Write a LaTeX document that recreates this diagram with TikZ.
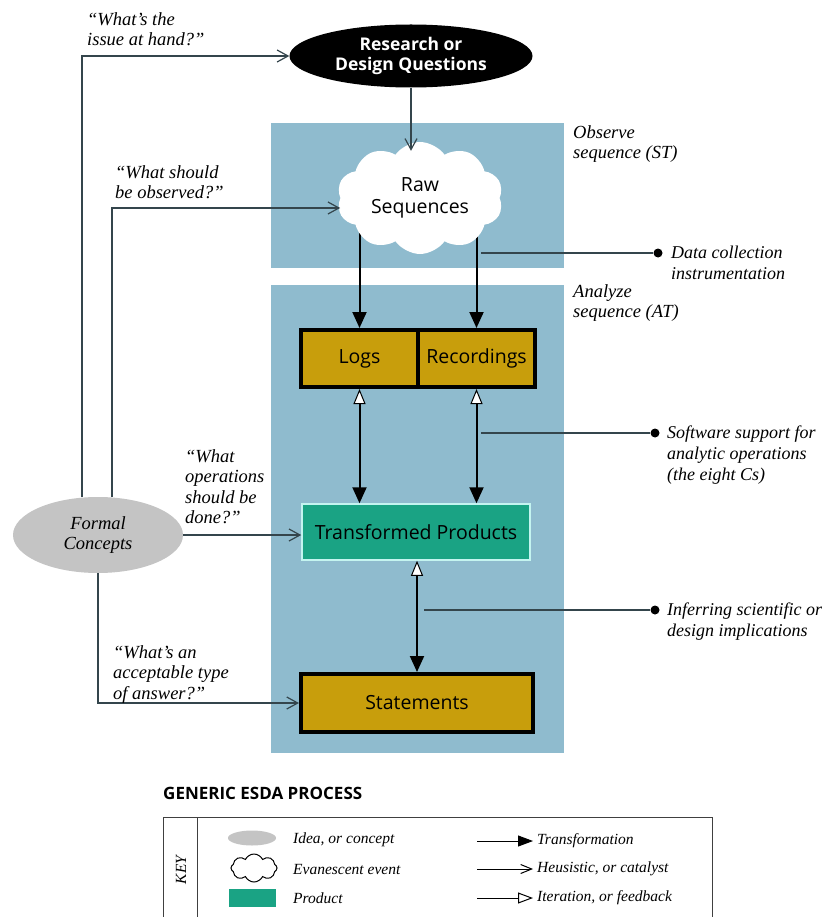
\documentclass[tikz,border=0pt]{standalone}
\usepackage{fontspec}
\setmainfont{Liberation Serif}
\setsansfont{Open Sans}
\usetikzlibrary{arrows.meta,shapes.geometric,shapes.symbols,backgrounds,positioning}

\begin{document}
\begin{tikzpicture}[x=1pt,y=-1pt,
  note/.style={font=\fontsize{18.5}{20.5}\selectfont\itshape, align=left, inner sep=0pt, anchor=north west},
  sidenote/.style={note, font=\fontsize{18}{21}\selectfont\itshape},
  keytext/.style={font=\fontsize{15.5}{17}\selectfont\itshape, inner sep=0pt, anchor=west},
  boxtext/.style={font=\sffamily\fontsize{19.5}{22}\selectfont},
  question/.style={ellipse, fill=black, text=white, font=\sffamily\bfseries\fontsize{17.5}{20}\selectfont,
    align=center, inner sep=0pt, minimum width=243pt, minimum height=63pt},
  rawcloud/.style={cloud, cloud puffs=10, cloud puff arc=110, aspect=1.5, fill=white, boxtext,
    align=center, inner sep=0pt, minimum width=166pt, minimum height=112pt},
  product/.style={rectangle, draw=black, line width=4pt, fill=mustardESDA, boxtext, inner sep=0pt},
  transprod/.style={rectangle, draw=edgeESDA, line width=1.5pt, fill=tealESDA, boxtext, inner sep=0pt},
  concept/.style={ellipse, fill=greyESDA, font=\fontsize{18.5}{20.5}\selectfont\itshape, align=center, inner sep=0pt},
  dot/.style={circle, fill=black, inner sep=0pt, minimum size=9pt},
  heur/.style={draw=lineESDA, line width=1.2pt, -{Straight Barb[length=11pt,width=12pt,line width=1.2pt]}},
  transf/.style={line width=2pt, -{Triangle[length=16pt,width=14pt]}},
  iter/.style={line width=2pt, {Triangle[length=15pt,width=12pt,fill=white,line width=1pt]}-{Triangle[length=16pt,width=14pt]}},
  side/.style={draw=lineESDA, line width=1.2pt}
]

\definecolor{panelESDA}{HTML}{8FBBCE}
\definecolor{mustardESDA}{HTML}{C89E0C}
\definecolor{tealESDA}{HTML}{1AA384}
\definecolor{edgeESDA}{HTML}{C4F4F0}
\definecolor{greyESDA}{HTML}{C4C4C4}
\definecolor{lineESDA}{HTML}{34454C}

\useasboundingbox (0,0) rectangle (826,917);

% main nodes
\node[question] (rq) at (411,56) {Research or\\Design Questions};
\node[rawcloud] (raw) at (420,198) {Raw\\Sequences};
\node[product, minimum width=117pt, minimum height=57pt] (logs) at (359.5,358.5) {Logs};
\node[product, minimum width=117pt, minimum height=57pt] (rec) at (476.5,358.5) {Recordings};
\node[transprod, minimum width=228pt, minimum height=56pt] (tp) at (416,532) {Transformed Products};
\node[product, minimum width=232pt, minimum height=58pt] (stmt) at (417,703) {Statements};
\node[concept, minimum width=170pt, minimum height=76pt] (fc) at (98,535) {Formal\\Concepts};

% panels and the arrows under the cloud
\begin{scope}[on background layer]
  \fill[white] (0,0) rectangle (826,917);
  \fill[panelESDA] (271,123) rectangle (564,268);
  \fill[panelESDA] (271,285) rectangle (564,753);
  \draw[transf] (raw.center -| logs.north) -- (logs.north);
  \draw[transf] (raw.center -| rec.north) -- (rec.north);
\end{scope}

\draw[heur] (rq.south) -- ([yshift=-9pt]rq.south |- raw.north);

% questions from the concepts
\draw[heur] ([xshift=-16pt]fc.north) |- (rq.west);
\draw[heur] ([xshift=14pt]fc.north) |- ([yshift=-10pt]raw.west);
\draw[heur] (fc.east) -- (fc.east -| tp.west);
\draw[heur] (fc.south) |- (stmt.west);

\node[note] (q1) at (87,12) {“What’s the\\issue at hand?”};
\node[note] (q2) at (115,165) {“What should\\be observed?”};
\node[note] (q3) at (185,449) {“What\\operations\\should be\\done?”};
\node[note] (q4) at (113,645) {“What’s an\\acceptable type\\of answer?”};

% iteration
\draw[iter] (logs.south) -- (logs.south |- tp.north);
\draw[iter] (rec.south) -- (rec.south |- tp.north);
\draw[iter] (tp.south -| stmt.north) -- (stmt.north);

% right side notes
\node[note] (obs) at (573,125) {Observe\\sequence (ST)};
\node[note] (ana) at (573,284) {Analyze\\sequence (AT)};

\node[dot] (d1) at (658,253) {};
\node[dot] (d2) at (655,433) {};
\node[dot] (d3) at (655,610) {};
\coordinate (c1) at (481,253);
\coordinate (c2) at (481,433);
\coordinate (c3) at (424,610);
\draw[side] (c1) -- (d1);
\draw[side] (c2) -- (d2);
\draw[side] (c3) -- (d3);
\node[sidenote] (n1) at (671,246) {Data collection\\instrumentation};
\node[sidenote] (n2) at (667,426) {Software support for\\analytic operations\\(the eight Cs)};
\node[sidenote] (n3) at (667,603) {Inferring scientific or\\design implications};

% key
\node[font=\sffamily\bfseries\fontsize{17}{20}\selectfont, anchor=west, inner sep=0pt] (title) at (163,793) {GENERIC ESDA PROCESS};
\draw[line width=1pt, draw=black!75] (163,817) rectangle (712,935);
\draw[line width=1pt, draw=black!75] (197,817) -- (197,935);
\node[keytext, anchor=center, rotate=90] (keylbl) at (181,870) {KEY};

\node[ellipse, fill=greyESDA, minimum width=48pt, minimum height=15pt, inner sep=0pt] (kidea) at (252,838) {};
\node[cloud, cloud puffs=8, cloud puff arc=130, draw=black, fill=white, line width=1pt, aspect=1.6, minimum width=46pt, minimum height=28pt, inner sep=0pt] (kevent) at (254,868) {};
\node[fill=tealESDA, minimum width=47pt, minimum height=18pt, inner sep=0pt] (kprod) at (252,898) {};
\node[keytext] (tidea) at (293,840) {Idea, or concept};
\node[keytext] (tevent) at (293,869) {Evanescent event};
\node[keytext] (tprod) at (293,898) {Product};

\coordinate (ktr) at (477,841);
\coordinate (khe) at (477,869);
\coordinate (kit) at (477,898);
\node[keytext] (ttr) at (537,841) {Transformation};
\node[keytext] (the) at (537,869) {Heusistic, or catalyst};
\node[keytext] (tit) at (537,898) {Iteration, or feedback};
\draw[line width=1pt, shorten >=4pt, -{Triangle[length=15pt,width=11pt]}] (ktr) -- (ttr.west);
\draw[line width=1pt, shorten >=4pt, -{Straight Barb[length=11pt,width=9pt]}] (khe) -- (the.west);
\draw[line width=1pt, shorten >=4pt, -{Triangle[length=15pt,width=11pt,fill=white]}] (kit) -- (tit.west);
\end{tikzpicture}
\end{document}
